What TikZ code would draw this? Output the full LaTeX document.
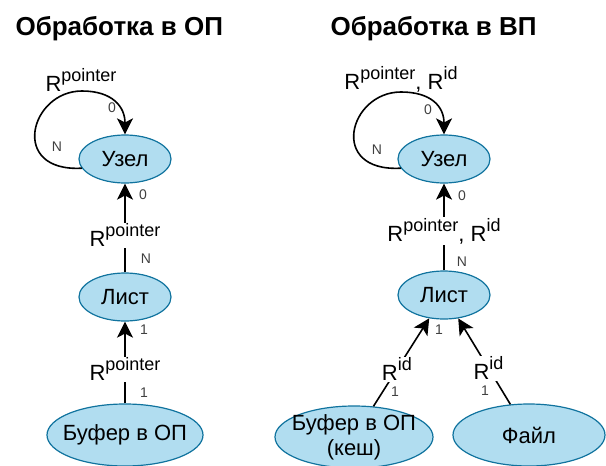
\documentclass[tikz,border=0pt]{standalone}
\usepackage{fontspec}
\setmainfont{Liberation Sans}
\usepackage{tikz}
\usetikzlibrary{shapes.geometric}
\usetikzlibrary{arrows.meta}
\definecolor{nodefill}{HTML}{B1DDF0}
\definecolor{nodeline}{HTML}{10739E}
\newcommand{\Rsup}[1]{R\raisebox{10pt}{\fontsize{18}{18}\selectfont #1}}

\begin{document}
\begin{tikzpicture}[x=1pt,y=-1pt,
    arr/.style={draw=black,line width=1.6pt,-{Stealth[length=16pt,width=16pt,inset=4pt]}},
    rlbl/.style={fill=white,inner sep=1pt,font=\fontsize{22}{25}\selectfont},
    endlbl/.style={inner sep=0pt,font=\fontsize{14}{16}\selectfont,text=black!75}]
    \useasboundingbox (0,0) rectangle (606,466);

    % titles
    \node[anchor=base west,font=\fontsize{26}{30}\selectfont\bfseries] (t1) at (12,35) {Обработка в ОП};
    \node[anchor=base west,font=\fontsize{26}{30}\selectfont\bfseries] (t2) at (327,35) {Обработка в ВП};

    \begin{scope}[every node/.style={ellipse,draw=nodeline,fill=nodefill,line width=1.2pt,
        inner sep=0pt,minimum width=92pt,minimum height=48pt,font=\fontsize{22}{25}\selectfont}]
        \node (u1) at (125,159) {Узел};
        \node (l1) at (125,297) {Лист};
        \node[minimum width=156pt,minimum height=62pt,inner xsep=-10pt] (b1) at (125,435) {Буфер в ОП};
        \node (u2) at (444,159) {Узел};
        \node (l2) at (444,295) {Лист};
        \node[minimum width=158pt,minimum height=62pt,inner xsep=-10pt,inner ysep=-5pt,align=center] (b2) at (354,437) {Буфер в ОП\\(кеш)};
        \node[minimum width=152pt,minimum height=62pt] (f2) at (529,435) {Файл};
    \end{scope};

    % loops
    \coordinate (top1) at (82,91);
    \coordinate (top2) at (401,92);
    \draw[arr] (u1.192) .. controls +(-73,4) and +(-52,0) .. (top1) .. controls +(30,0) and +(0,-28) .. (u1.north);
    \draw[arr] (u2.192) .. controls +(-73,4) and +(-52,0) .. (top2) .. controls +(30,0) and +(0,-28) .. (u2.north);
    \node[rlbl,fill=none] (lp1) at (81,80) {\Rsup{pointer}};
    \node[rlbl,fill=none] (lp2) at (401,79) {\Rsup{pointer}, \Rsup{id}};
    \node[endlbl] (z1) at (112,108) {0};
    \node[endlbl] (n1) at (57,147) {N};
    \node[endlbl] (z2) at (428,110) {0};
    \node[endlbl] (n2) at (377,150) {N};

    \begin{scope}[every edge/.style={arr}]
        \path (l1) edge node[rlbl,pos=.42] {\Rsup{pointer}}
            node[endlbl,pos=.87,xshift=18pt] {0}
            node[endlbl,pos=.16,xshift=21pt] {N} (u1);
        \path (b1) edge node[rlbl,pos=.42] {\Rsup{pointer}}
            node[endlbl,pos=.9,xshift=19pt] {1}
            node[endlbl,pos=.13,xshift=19pt] {1} (l1);
        \path (l2) edge node[rlbl,pos=.45] {\Rsup{pointer}, \Rsup{id}}
            node[endlbl,pos=.86,xshift=18pt] {0}
            node[endlbl,pos=.1,xshift=18pt] {N} (u2);
        \path (b2) edge node[rlbl,pos=.42] {\Rsup{id}}
            node[endlbl,pos=.17,xshift=12pt] {1}
            node[endlbl,pos=.87,xshift=17pt] {1} (l2);
        \path (f2) edge node[rlbl,pos=.42] {\Rsup{id}}
            node[endlbl,pos=.16,xshift=-17pt] {1} (l2);
    \end{scope}
\end{tikzpicture}
\end{document}
